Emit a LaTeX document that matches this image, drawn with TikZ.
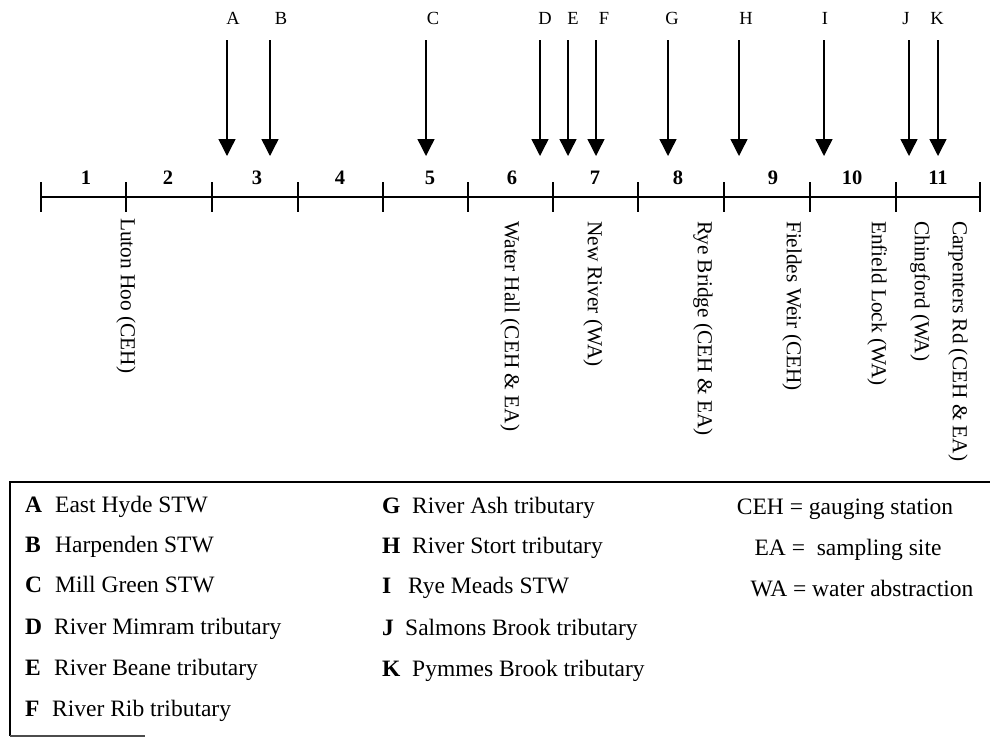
\documentclass[tikz,border=0pt]{standalone}
\usepackage{fontspec}
\setmainfont{Liberation Serif}
\usetikzlibrary{arrows.meta}
\begin{document}
\begin{tikzpicture}[x=1pt,y=-1pt,
  inflow/.style={line width=1.4pt,-{Triangle[width=17pt,length=17pt]}},
  tick/.style={line width=1.3pt},
  river/.style={line width=2.8pt},
  arrlabel/.style={font=\fontsize{18.5}{18.5}\selectfont,anchor=base,inner sep=0pt},
  seglabel/.style={font=\fontsize{20.5}{20.5}\selectfont\bfseries,anchor=base,inner sep=0pt},
  sitelabel/.style={font=\fontsize{21.3}{21.3}\selectfont,rotate=-90,anchor=west,inner sep=0pt},
  legkey/.style={font=\fontsize{23.5}{23.5}\selectfont\bfseries,anchor=base west,inner sep=0pt},
  legtext/.style={font=\fontsize{23.5}{23.5}\selectfont,anchor=base west,inner sep=0pt},
  legdef/.style={font=\fontsize{23.5}{23.5}\selectfont,anchor=base,inner sep=0pt},
  boxline/.style={line width=1.5pt}]
\useasboundingbox (0,0) rectangle (990,737);
\fill[white] (0,0) rectangle (990,737);

% river line and ticks
\foreach \i/\x in {0/41,1/126,2/212,3/298,4/383,5/468,6/553,7/638,8/724,9/810,10/896,11/980}{
  \coordinate (t\i) at (\x,197);
  \coordinate (tu\i) at (\x,182);
  \coordinate (td\i) at (\x,212);
  \draw[tick] (tu\i) -- (td\i);
}
\draw[river] (t0) -- (t11);

% segment numbers
\foreach \n/\x in {1/86,2/168,3/257,4/340,5/430,6/512,7/595,8/678,9/773,10/852,11/938}{
  \node[seglabel] (s\n) at (\x,184) {\n};
}

% inflow arrows
\foreach \L/\lx/\ax in {A/233/227,B/281/270,C/433/426,D/545/540,E/573/568,F/604/596,G/672/668,H/746/739,I/825/824,J/906/909,K/937/938}{
  \node[arrlabel] (l\L) at (\lx,24) {\L};
  \coordinate (a\L) at (\ax,40);
  \coordinate (b\L) at (\ax,156);
  \draw[inflow] (a\L) -- (b\L);
}

% site labels
\node[sitelabel] (luton) at (126,218) {Luton Hoo (CEH)};
\node[sitelabel] (water) at (510,221) {Water Hall (CEH \& EA)};
\node[sitelabel] (newr) at (593,221) {New River (WA)};
\node[sitelabel] (rye) at (703,221) {Rye Bridge (CEH \& EA)};
\node[sitelabel] (fieldes) at (792,221) {Fieldes Weir (CEH)};
\node[sitelabel] (enfield) at (877,221) {Enfield Lock (WA)};
\node[sitelabel] (ching) at (920,221) {Chingford (WA)};
\node[sitelabel] (carp) at (958,221) {Carpenters Rd (CEH \& EA)};

% legend box
\coordinate (bxtr) at (990,482);
\coordinate (bxtl) at (10,482);
\coordinate (bxbl) at (10,736);
\coordinate (bxbr) at (145,736);
\draw[boxline] (bxtr) -- (bxtl) -- (bxbl);
\draw[boxline,black!70] (bxbl) -- (bxbr);

% legend column 1
\foreach \L/\y/\tx/\t in {A/512/55/East Hyde STW,B/552/55/Harpenden STW,C/592/55/Mill Green STW,D/634/54/River Mimram tributary,E/675/54/River Beane tributary,F/716/52/River Rib tributary}{
  \node[legkey] (k\L) at (25,\y) {\L};
  \node[legtext] (d\L) at (\tx,\y) {\t};
}
% legend column 2
\foreach \L/\y/\tx/\t in {G/513/412/River Ash tributary,H/553/412/River Stort tributary,I/593/408/Rye Meads STW,J/635/405/Salmons Brook tributary,K/676/412/Pymmes Brook tributary}{
  \node[legkey] (k\L) at (382,\y) {\L};
  \node[legtext] (d\L) at (\tx,\y) {\t};
}
% legend column 3
\node[legdef] (ceh) at (845,514) {CEH = gauging station};
\node[legdef] (ea) at (848,555) {EA =\ \ sampling site};
\node[legdef] (wa) at (862,596) {WA = water abstraction};
\end{tikzpicture}
\end{document}
